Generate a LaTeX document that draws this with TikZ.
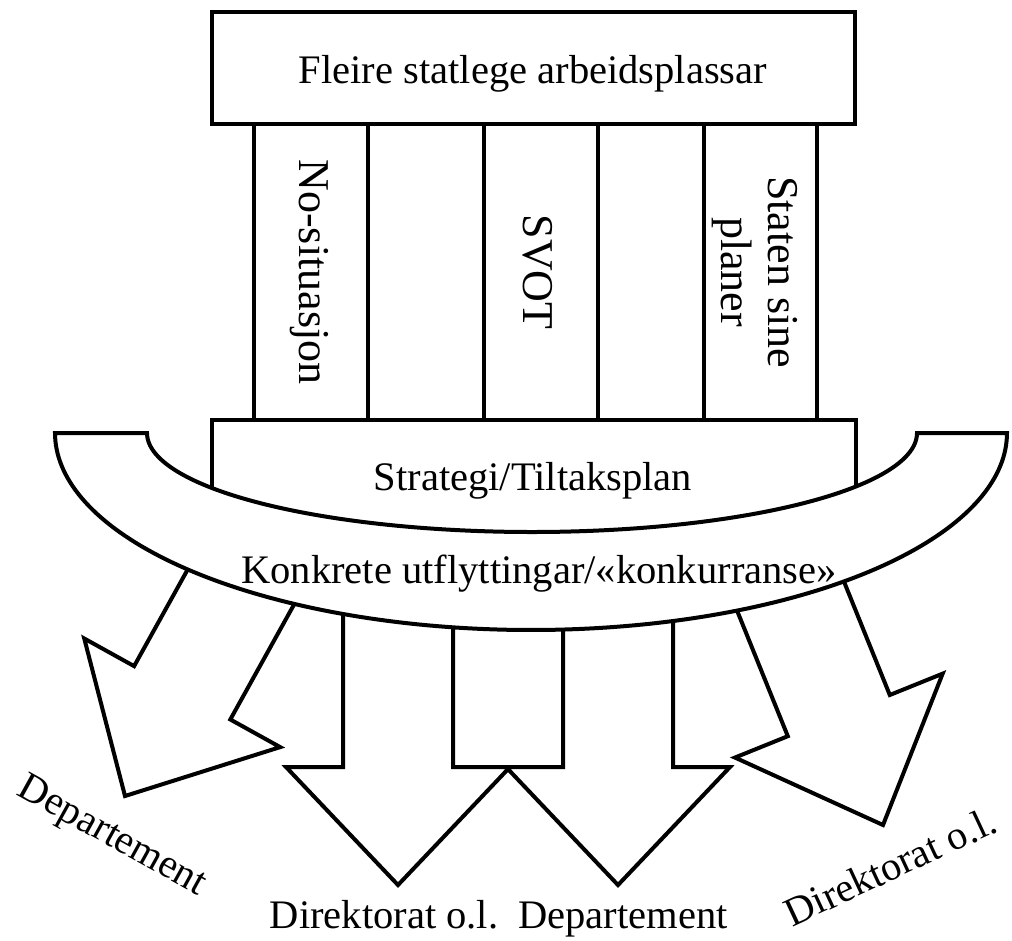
\documentclass[tikz,border=0pt]{standalone}
\usepackage{fontspec}
\setmainfont{Liberation Serif}
\begin{document}
\begin{tikzpicture}[x=0.75pt,y=-0.75pt, line width=3pt,
  shapebox/.style={draw=black, fill=white, line join=miter},
  lbl/.style={font=\fontsize{30.4pt}{35pt}\selectfont, inner sep=0pt, anchor=base},
  plbl/.style={font=\fontsize{33pt}{35pt}\selectfont, inner sep=0pt, rotate=-90, align=center}]
\useasboundingbox (0,0) rectangle (1012,940);
\newcommand\bigarrow[3]{%
 \begin{scope}[shift={#1}, rotate=#2]
  \path[shapebox] (0,0) -- (112,-118) -- (55,-118) -- (55,{-118-#3}) -- (-55,{-118-#3}) -- (-55,-118) -- (-112,-118) -- cycle;
 \end{scope}}
% arrows (behind the band)
\bigarrow{(125,796)}{-29}{140}
\bigarrow{(398,885)}{0}{206}
\bigarrow{(618,885)}{0}{206}
\bigarrow{(883,825)}{22}{150}
% strategy box
\path[shapebox] (212,420) rectangle (856,555);
% band
\path[shapebox] (55,433) -- plot[domain=180:360,samples=150] ({531+476*cos(\x)},{433-197*sin(\x)})
  -- (917,433) -- plot[domain=360:180,samples=150] ({532+385*cos(\x)},{433-99*sin(\x)}) -- cycle;
% pillars
\foreach \px in {254,368,484,598,704,817} \draw (\px,124) -- (\px,420);
% top box
\path[shapebox] (212,12) rectangle (855,124);
% texts
\node[lbl] (top) at (533,83) {Fleire statlege arbeidsplassar};
\node[plbl] (p1) at (309,272) {No-situasjon};
\node[plbl] (p3) at (538,272) {SVOT};
\node[plbl] (p5) at (755,272) {Staten sine\\planer};
\node[lbl] (strat) at (533,490) {Strategi/Tiltaksplan};
\node[lbl] (konk) at (539,583) {Konkrete utflyttingar/«konkurranse»};
\node[lbl, rotate=-29] (l1) at (107,845) {Departement};
\node[lbl] (l2) at (384,928) {Direktorat o.l.};
\node[lbl] (l3) at (623,928) {Departement};
\node[lbl, rotate=25] (l4) at (896,879) {Direktorat o.l.};
\end{tikzpicture}
\end{document}
